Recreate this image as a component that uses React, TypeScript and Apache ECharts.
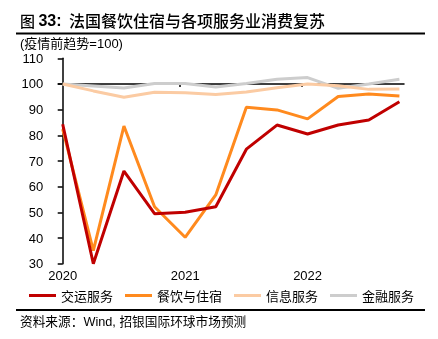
import React, { useEffect, useRef } from "react";
import * as echarts from "echarts";

const quarters = ["2020Q1","2020Q2","2020Q3","2020Q4","2021Q1","2021Q2","2021Q3","2021Q4","2022Q1","2022Q2","2022Q3","2022Q4"];
const yearLabels: Record<number, string> = { 0: "2020", 4: "2021", 8: "2022" };
const transport = [84.3, 30, 66.1, 49.5, 50, 52.2, 74.6, 84, 80.5, 84, 86, 93.1];
const catering = [82.4, 35.1, 83.6, 52.2, 40.3, 56.8, 90.9, 89.9, 86.4, 95.1, 96.1, 95.3];
const info = [100, 97.3, 94.8, 96.8, 96.6, 95.9, 96.9, 98.5, 100, 99.3, 97.9, 98];
const finance = [100, 99.2, 98.4, 100.2, 100.2, 98.8, 100.2, 101.8, 102.5, 98.3, 100, 101.8];
const seriesNames = ["交运服务", "餐饮与住宿", "信息服务", "金融服务"];
const seriesColors = ["#C00000", "#FF8A1E", "#FBCBA3", "#CDCDCD"];

const FONT = "'Liberation Sans', Arial, 'Noto Sans CJK SC', sans-serif";
const CJK = "'Noto Sans CJK SC', sans-serif";

export default function App() {
  const ref = useRef<HTMLDivElement>(null);
  useEffect(() => {
    if (!ref.current) return;
    const chart = echarts.init(ref.current, undefined, { renderer: "svg" });
    const allData = [transport, catering, info, finance];
    const xMin = -0.144;
    const xMax = 11.15;
    chart.setOption({
      animation: false,
      textStyle: { fontFamily: FONT },
      grid: { left: 58.3, right: 34, top: 58.3, bottom: 75.3 },
      xAxis: [
        {
          type: "value",
          min: xMin,
          max: xMax,
          position: "bottom",
          axisLine: { show: false },
          axisTick: { show: false },
          splitLine: { show: false },
          axisLabel: {
            customValues: [0, 4, 8],
            formatter: (v: number) => yearLabels[Math.round(v)] ?? "",
            color: "#000",
            fontSize: 13,
            margin: 5,
            fontFamily: FONT,
          },
        },
        {
          type: "value",
          min: xMin,
          max: xMax,
          position: "top",
          offset: -25.7,
          axisLine: { show: true, lineStyle: { color: "#000", width: 1.5 } },
          axisTick: { show: true, customValues: [3.83, 7.82], inside: true, length: 3, lineStyle: { color: "#000", width: 1.5 } },
          axisLabel: { show: false },
          splitLine: { show: false },
        },
      ],
      yAxis: {
        type: "value",
        min: 30,
        max: 110,
        interval: 10,
        axisLine: { show: true, lineStyle: { color: "#000", width: 1.5 } },
        axisTick: { show: true, length: 5, lineStyle: { color: "#000", width: 1.5 } },
        splitLine: { show: false },
        axisLabel: { color: "#000", fontSize: 13, margin: 15, fontFamily: FONT },
      },
      legend: {
        left: 29,
        top: 289,
        padding: 0,
        icon: "rect",
        itemWidth: 27,
        itemHeight: 3,
        itemGap: 12,
        data: seriesNames,
        textStyle: { fontSize: 13, color: "#000", fontFamily: CJK },
      },
      series: seriesNames.map((name, i) => ({
        name,
        type: "line",
        xAxisIndex: 0,
        data: allData[i].map((v, j) => [quarters.indexOf(quarters[j]), v]),
        showSymbol: false,
        symbol: "none",
        lineStyle: { color: seriesColors[i], width: 3 },
        itemStyle: { color: seriesColors[i] },
        z: 10 - i,
      })),
      graphic: [
        {
          type: "text",
          left: 20,
          top: 12,
          style: {
            text: "{a|图 }{b|33:}",
            rich: {
              a: { fontSize: 15, fontFamily: CJK, fontWeight: 500, fill: "#000" },
              b: { fontSize: 16, fontFamily: FONT, fontWeight: "bold", fill: "#000" },
            },
          },
        },
        {
          type: "text",
          left: 69,
          top: 11.5,
          style: { text: "法国餐饮住宿与各项服务业消费复苏", fontSize: 16, fontFamily: CJK, fontWeight: 500, fill: "#000" },
        },
        {
          type: "line",
          shape: { x1: 16, y1: 33.5, x2: 425, y2: 33.5 },
          style: { stroke: "#000", lineWidth: 2 },
        },
        {
          type: "text",
          left: 20,
          top: 37,
          style: { text: "(疫情前趋势=100)", fontSize: 13, fontFamily: FONT, fill: "#000" },
        },
        {
          type: "line",
          shape: { x1: 16, y1: 310, x2: 425, y2: 310 },
          style: { stroke: "#000", lineWidth: 2 },
        },
        {
          type: "text",
          left: 20,
          top: 316,
          style: { text: "资料来源：Wind, 招银国际环球市场预测", fontSize: 12.7, fontFamily: FONT, fill: "#000" },
        },
      ],
    });
    return () => chart.dispose();
  }, []);
  return <div ref={ref} style={{ position: "fixed", left: 0, top: 0, width: 438, height: 339 }} />;
}
